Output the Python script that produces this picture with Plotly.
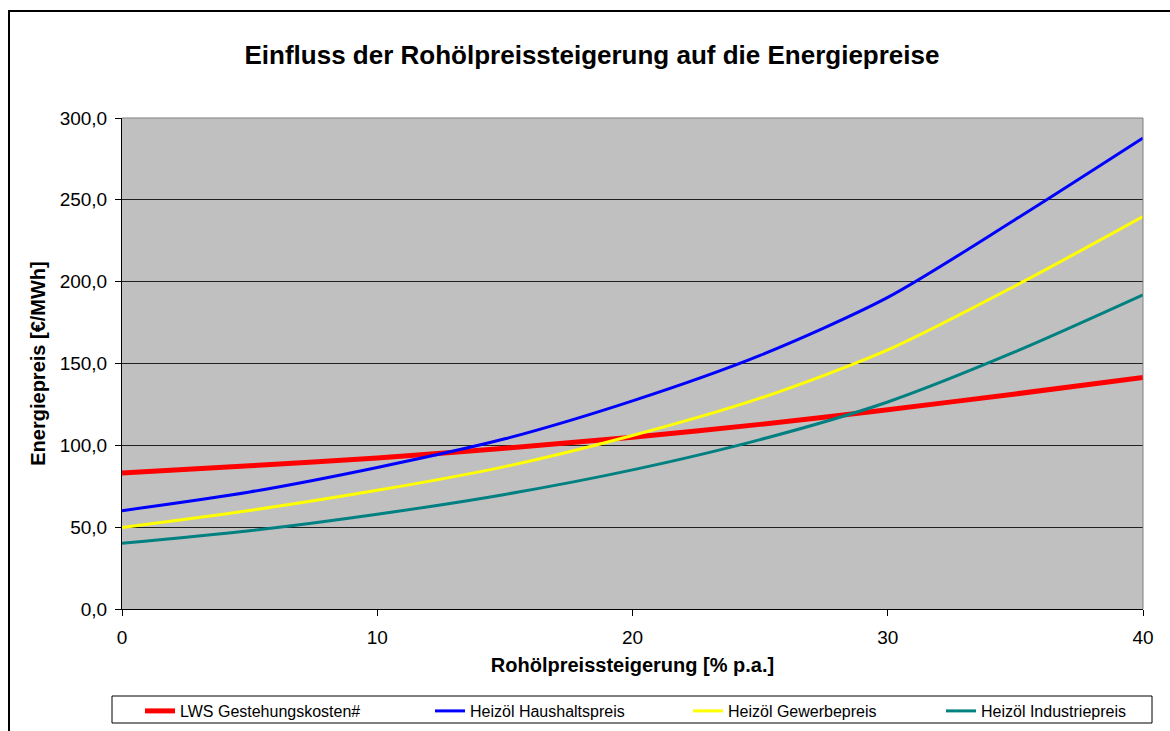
import plotly.graph_objects as go

# Rohölpreissteigerung in % p.a.
steigerung = [0, 5, 10, 15, 20, 25, 30, 35, 40]

# Energiepreise in €/MWh
lws_gestehungskosten = [83.1, 87.5, 92.2, 98.2, 105.0, 112.8, 121.8, 131.4, 141.4]
heizoel_haushalt = [60.1, 71.5, 86.5, 104.0, 127.2, 155.0, 190.4, 238.0, 287.8]
heizoel_gewerbe = [49.8, 60.2, 72.5, 87.0, 106.0, 128.8, 158.3, 197.5, 239.8]
heizoel_industrie = [40.1, 47.8, 57.9, 70.0, 85.0, 103.5, 126.5, 157.2, 191.9]

serien = [
    ("LWS Gestehungskosten#", lws_gestehungskosten, "#FF0000", 5),
    ("Heizöl Haushaltspreis", heizoel_haushalt, "#0000FF", 3),
    ("Heizöl Gewerbepreis", heizoel_gewerbe, "#FFFF00", 3),
    ("Heizöl Industriepreis", heizoel_industrie, "#008080", 3),
]

y_ticks = [0, 50, 100, 150, 200, 250, 300]
x_ticks = [0, 10, 20, 30, 40]

FONT = "Liberation Sans, Arial, sans-serif"

W, H = 1170, 731
L, R, T, B = 122, 27, 118, 122
pw, ph = W - L - R, H - T - B

# left edge of each legend entry (one legend per series)
legend_x = [140, 430, 688, 941]
legend_ids = ["legend", "legend2", "legend3", "legend4"]

fig = go.Figure()
for (name, werte, farbe, breite), lid in zip(serien, legend_ids):
    fig.add_trace(go.Scatter(
        x=steigerung, y=werte, name=name, mode="lines", legend=lid,
        line=dict(color=farbe, width=breite, shape="spline", smoothing=0.8),
    ))


def px(xp):
    return (xp - L) / pw


def py(yp):
    return (H - B - yp) / ph


shapes = [
    # outer frame of the chart (left and top edge)
    dict(type="line", xref="paper", yref="paper",
         x0=px(9), x1=px(9), y0=py(740), y1=py(10),
         line=dict(color="black", width=2)),
    dict(type="line", xref="paper", yref="paper",
         x0=px(8), x1=px(1180), y0=py(11), y1=py(11),
         line=dict(color="black", width=2)),
    # plot area border, top and right
    dict(type="line", xref="paper", yref="paper", x0=0, x1=1, y0=1, y1=1,
         line=dict(color="#808080", width=1)),
    dict(type="line", xref="paper", yref="paper", x0=1, x1=1, y0=0, y1=1,
         line=dict(color="#808080", width=1)),
    # legend box
    dict(type="rect", xref="paper", yref="paper",
         x0=px(112), x1=px(1152), y0=py(723), y1=py(696),
         line=dict(color="black", width=1), fillcolor="white", layer="below"),
]

legend_common = dict(
    orientation="h", xref="container", xanchor="left",
    yref="container", y=1 - 694 / H, yanchor="top",
    bgcolor="rgba(0,0,0,0)", borderwidth=0,
    font=dict(size=16, family=FONT, color="black"),
    itemwidth=30,
)

fig.update_layout(
    width=W, height=H,
    margin=dict(l=L, r=R, t=T, b=B, autoexpand=False),
    paper_bgcolor="white",
    plot_bgcolor="#C0C0C0",
    separators=",.",
    font=dict(family=FONT, color="black"),
    title=dict(
        text="<b>Einfluss der Rohölpreissteigerung auf die Energiepreise</b>",
        font=dict(size=26, family=FONT, color="black"),
        x=592 / W, xref="container", xanchor="center",
        y=1 - 55 / H, yref="container", yanchor="middle",
    ),
    xaxis=dict(
        range=[0, 40], tickvals=x_ticks, ticktext=[str(v) for v in x_ticks],
        showgrid=False, zeroline=False,
        showline=True, linecolor="black", linewidth=1,
        ticks="outside", ticklen=6, tickcolor="black",
        tickfont=dict(size=19, family=FONT), ticklabelstandoff=5,
        title=dict(text="<b>Rohölpreissteigerung [% p.a.]</b>",
                   font=dict(size=20, family=FONT), standoff=11),
    ),
    yaxis=dict(
        range=[0, 300], tickvals=y_ticks, tickformat=".1f",
        showgrid=True, gridcolor="#202020", gridwidth=1, zeroline=False,
        showline=True, linecolor="black", linewidth=1,
        ticks="outside", ticklen=6, tickcolor="black",
        tickfont=dict(size=19, family=FONT), ticklabelstandoff=4,
        title=dict(text="<b>Energiepreis [€/MWh]</b>",
                   font=dict(size=20, family=FONT), standoff=8),
    ),
    showlegend=True,
    shapes=shapes,
)

for lid, lx in zip(legend_ids, legend_x):
    fig.update_layout({lid: dict(legend_common, x=lx / W)})

fig.write_html("out.html")
